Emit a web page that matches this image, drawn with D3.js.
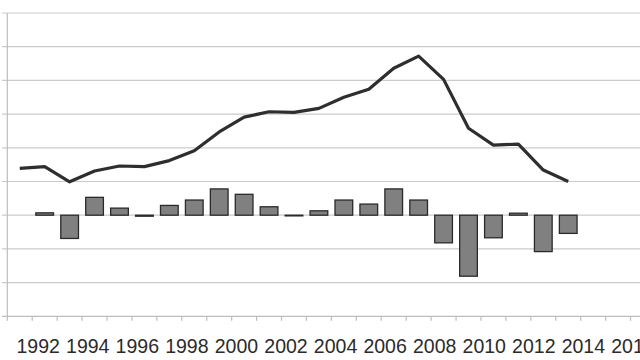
<!DOCTYPE html>
<html>
<head>
<meta charset="utf-8">
<script src="https://cdn.jsdelivr.net/npm/d3@7"></script>
<style>
  html, body { margin: 0; padding: 0; background: #fff; }
  svg { display: block; }
</style>
</head>
<body>
<svg id="chart" width="640" height="360"></svg>
<script>
// Categories (years); chart is cropped at the right edge
const years = d3.range(1991, 2017);
// Line series (1991–2013)
const lineYears = d3.range(1991, 2014);
const lineValues = [1.39, 1.44, 0.99, 1.31, 1.46, 1.44, 1.62, 1.91, 2.47, 2.91, 3.07, 3.05,
                    3.17, 3.50, 3.74, 4.36, 4.72, 4.03, 2.58, 2.08, 2.11, 1.34, 1.00];
// Bar series (1992–2013)
const barYears = d3.range(1992, 2014);
const barValues = [0.07, -0.69, 0.53, 0.21, -0.03, 0.29, 0.45, 0.78, 0.62, 0.25, -0.02, 0.13,
                   0.45, 0.33, 0.78, 0.45, -0.82, -1.81, -0.67, 0.06, -1.08, -0.54];
// Tick labels every other year
const tickLabels = d3.range(1992, 2017, 2);
const yTicks = d3.range(-3, 7, 1);

const svg = d3.select("#chart");
const plotLeft = 7.3, plotTop = 13, plotBottom = 316.3;
const step = 24.93;

const x = d3.scaleBand()
  .domain(years)
  .range([plotLeft, plotLeft + step * years.length])
  .paddingInner(0.29).paddingOuter(0.145);
const y = d3.scaleLinear().domain([-3, 6]).range([plotBottom, plotTop]);
const cx = d => x(d) + x.bandwidth() / 2;

// gridlines
svg.append("g").selectAll("line").data(yTicks.filter(t => t > -3)).join("line")
  .attr("x1", 2).attr("x2", 640)
  .attr("y1", d => y(d)).attr("y2", d => y(d))
  .attr("stroke", "#cbcbcb").attr("stroke-width", 1.2);

// left axis line
svg.append("line")
  .attr("x1", plotLeft).attr("x2", plotLeft)
  .attr("y1", plotTop).attr("y2", plotBottom)
  .attr("stroke", "#bdbdbd").attr("stroke-width", 1.2);

// bottom axis
const xAxisG = svg.append("g");
xAxisG.append("line")
  .attr("x1", 2).attr("x2", 640)
  .attr("y1", plotBottom).attr("y2", plotBottom)
  .attr("stroke", "#bdbdbd").attr("stroke-width", 1.2);
xAxisG.selectAll("line.tick").data(years).join("line").attr("class", "tick")
  .attr("x1", d => x(d) - x.step() * x.paddingInner() / 2)
  .attr("x2", d => x(d) - x.step() * x.paddingInner() / 2)
  .attr("y1", plotBottom).attr("y2", plotBottom + 4.5)
  .attr("stroke", "#bdbdbd").attr("stroke-width", 1.2);

// labels
svg.append("g").selectAll("text").data(tickLabels).join("text")
  .attr("x", (d, i) => cx(d) - 6.5 - i * 0.3)
  .attr("y", 353.3)
  .attr("text-anchor", "middle")
  .attr("font-family", "Liberation Sans, Arial, sans-serif")
  .attr("font-size", 19.5)
  .attr("fill", "#2b2b2b")
  .text(d => d);

// bars
svg.append("g").selectAll("rect").data(barYears.map((yr, i) => ({yr, v: barValues[i]}))).join("rect")
  .attr("x", d => x(d.yr))
  .attr("width", x.bandwidth())
  .attr("y", d => y(Math.max(0, d.v)))
  .attr("height", d => Math.abs(y(d.v) - y(0)))
  .attr("fill", "#808080")
  .attr("stroke", "#2a2a2a").attr("stroke-width", 1.3);

// line
const line = d3.line().x(d => cx(d.yr)).y(d => y(d.v));
svg.append("path")
  .datum(lineYears.map((yr, i) => ({yr, v: lineValues[i]})))
  .attr("d", line)
  .attr("fill", "none")
  .attr("stroke", "#2e2e2e").attr("stroke-width", 3.2)
  .attr("stroke-linejoin", "round");
</script>
</body>
</html>
